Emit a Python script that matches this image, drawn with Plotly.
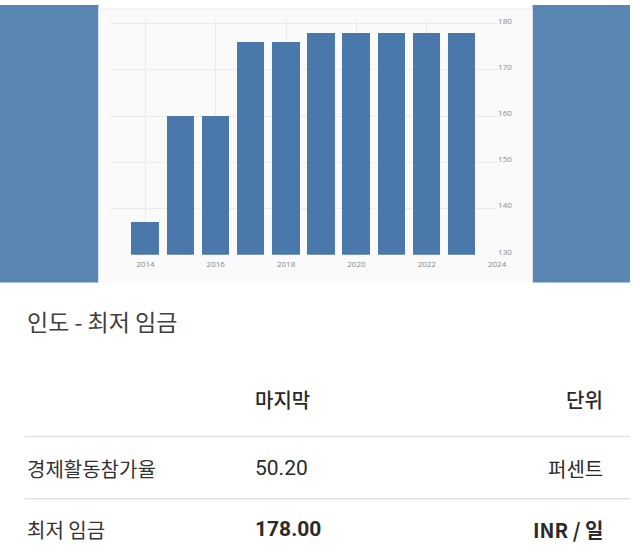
import plotly.graph_objects as go

# 연도별 최저 임금 (INR / 일)
years = [2014, 2015, 2016, 2017, 2018, 2019, 2020, 2021, 2022, 2023]
wages = [137, 160, 160, 176, 176, 178, 178, 178, 178, 178]

# 아래 표
title_text = "인도 - 최저 임금"
header = ["", "마지막", "단위"]
row_names = ["경제활동참가율", "최저 임금"]
row_last = ["50.20", "178.00"]
row_units = ["퍼센트", "INR / 일"]

W, H = 640, 554


def py(y):
    """픽셀 y -> paper 좌표"""
    return 1 - y / H


def px(x):
    return x / W


KR = "Noto Sans CJK KR"

fig = go.Figure()
fig.add_trace(go.Bar(
    x=years,
    y=wages,
    width=0.78,
    marker=dict(color="#4a78aa", line=dict(width=0)),
    hoverinfo="x+y",
))

shapes = [
    # 왼쪽/오른쪽 파란 배경
    dict(type="rect", xref="paper", yref="paper", x0=0, x1=px(100), y0=py(281), y1=1,
         fillcolor="#5a86b4", line=dict(width=0), layer="below"),
    dict(type="rect", xref="paper", yref="paper", x0=px(541), x1=1, y0=py(281), y1=1,
         fillcolor="#5a86b4", line=dict(width=0), layer="below"),
    # 차트 패널
    dict(type="rect", xref="paper", yref="paper", x0=px(100), x1=px(541), y0=py(281), y1=py(4),
         fillcolor="#fafafa", line=dict(width=0), layer="below"),
    dict(type="line", xref="paper", yref="paper", x0=px(100), x1=px(541), y0=py(4), y1=py(4),
         line=dict(color="#ececec", width=1), layer="below"),
    # 표 구분선
    dict(type="line", xref="paper", yref="paper", x0=px(25), x1=1, y0=py(437), y1=py(437),
         line=dict(color="#e2e2e2", width=1.5)),
    dict(type="line", xref="paper", yref="paper", x0=px(25), x1=1, y0=py(500), y1=py(500),
         line=dict(color="#e2e2e2", width=1.5)),
]

annotations = [
    dict(text=title_text, x=px(25), y=py(320), xanchor="left", yanchor="middle",
         font=dict(family=KR, size=23, color="#404040")),
    dict(text=header[1], x=px(257), y=py(400), xanchor="left", yanchor="middle",
         font=dict(family=KR, size=20, color="#2a2a2a", weight=500)),
    dict(text=header[2], x=px(615), y=py(400), xanchor="right", yanchor="middle",
         font=dict(family=KR, size=20, color="#2a2a2a", weight=500)),
]
row_y = [469, 531]
for i in range(len(row_names)):
    bold = 700 if i == 1 else 400
    annotations += [
        dict(text=row_names[i], x=px(25), y=py(row_y[i]), xanchor="left", yanchor="middle",
             font=dict(family=KR, size=20, color="#333333")),
        dict(text=row_last[i], x=px(257), y=py(row_y[i]), xanchor="left", yanchor="middle",
             font=dict(family="Roboto", size=21, color="#2a2a2a", weight=bold)),
        dict(text=row_units[i], x=px(615), y=py(row_y[i]), xanchor="right", yanchor="middle",
             font=dict(family=KR, size=20, color="#2a2a2a", weight=bold)),
    ]
for a in annotations:
    a.update(xref="paper", yref="paper", showarrow=False)

fig.update_layout(
    width=W, height=H,
    margin=dict(l=0, r=0, t=0, b=0),
    paper_bgcolor="white",
    plot_bgcolor="rgba(0,0,0,0)",
    showlegend=False,
    bargap=0,
    xaxis=dict(
        domain=[px(112), px(505)],
        range=[2013, 2024],
        tick0=2014, dtick=2,
        showgrid=True, gridcolor="#ebebeb", gridwidth=1,
        zeroline=False, showline=False,
        ticks="", tickfont=dict(family="Open Sans", size=8, color="#888888"),
        ticklabelstandoff=3,
        fixedrange=True,
    ),
    yaxis=dict(
        domain=[py(253), py(14.3)],
        range=[130, 181],
        side="right",
        tick0=130, dtick=10,
        showgrid=True, gridcolor="#ebebeb", gridwidth=1,
        zeroline=False, showline=False,
        ticks="", tickfont=dict(family="Open Sans", size=8, color="#888888"),
        ticklabelshift=-3,
        fixedrange=True,
    ),
    shapes=shapes,
    annotations=annotations,
)

# body 기본 여백 제거
fig.write_html(
    "out.html",
    config={"displayModeBar": False},
    post_script="document.body.style.margin='0px';",
)
